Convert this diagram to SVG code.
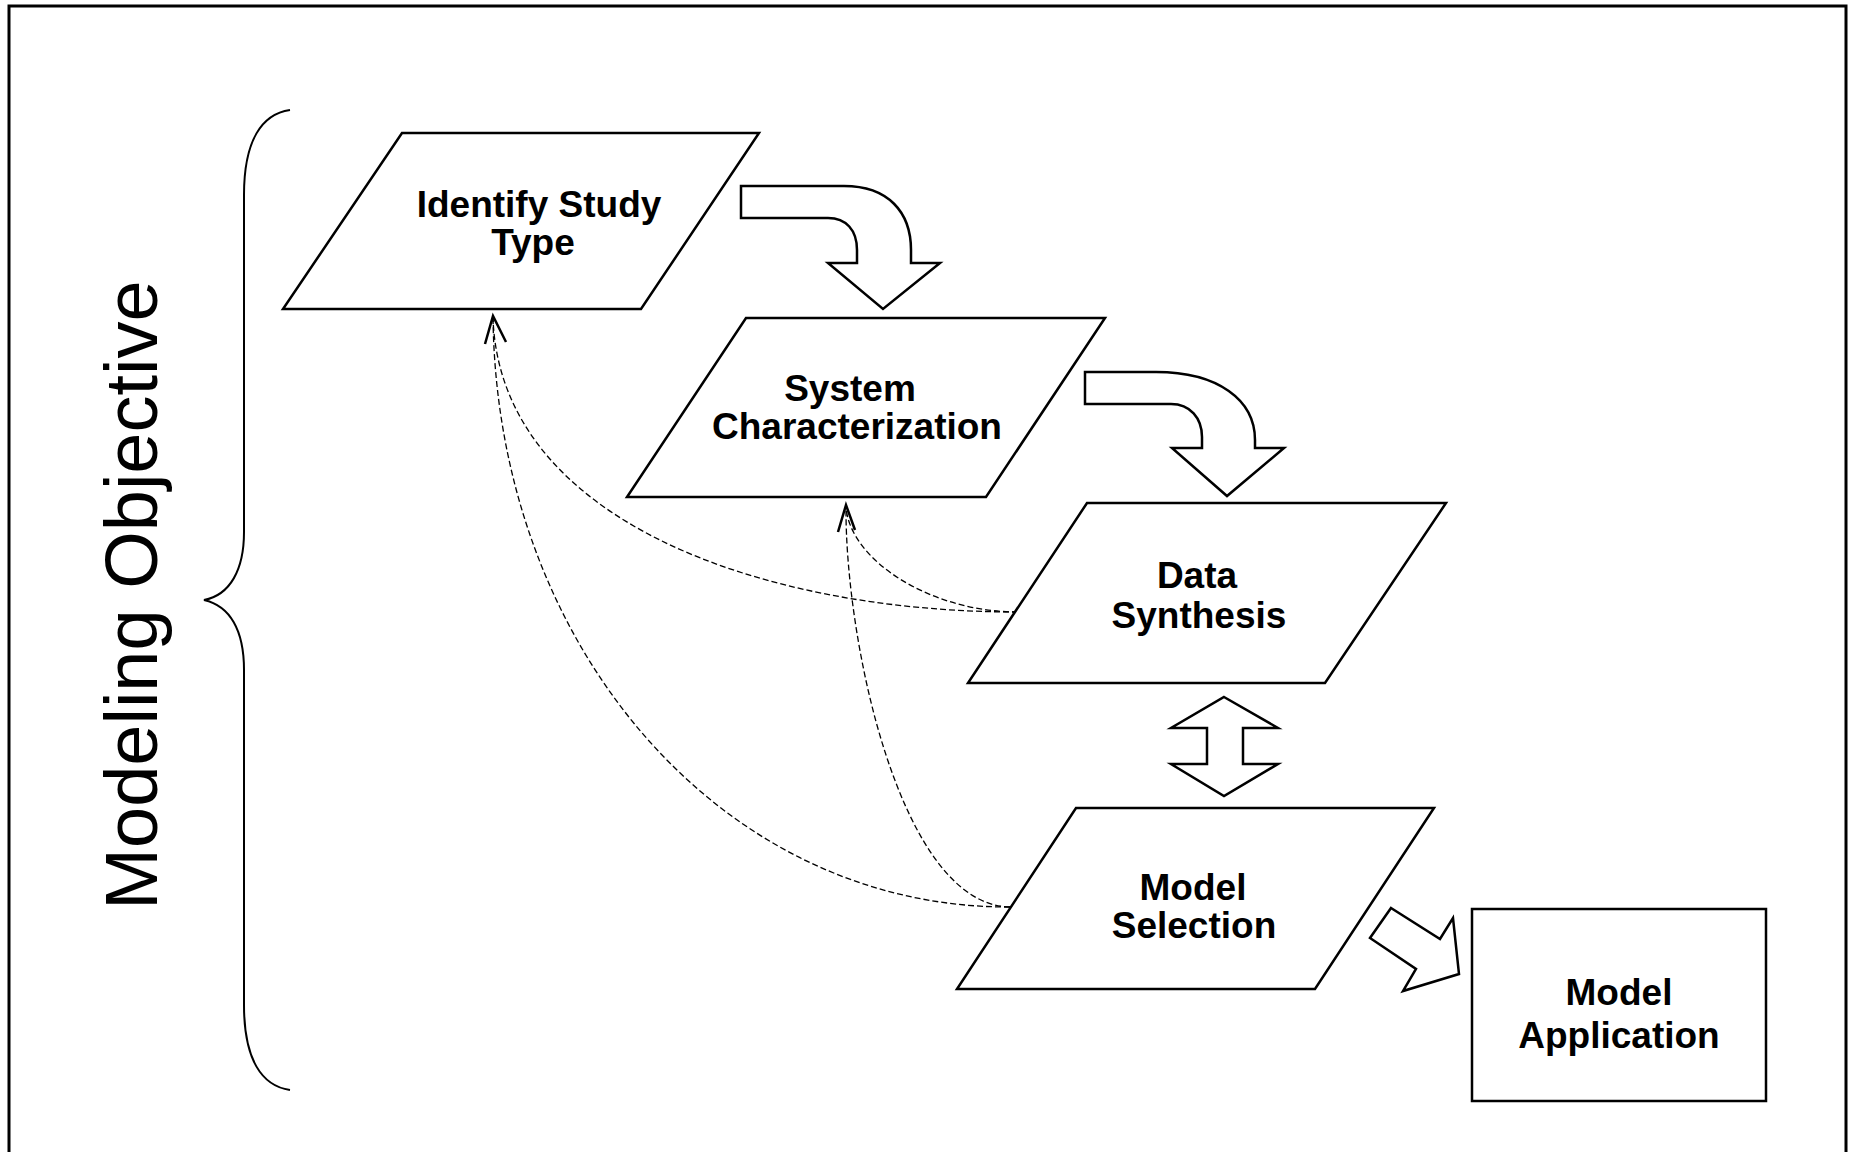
<svg xmlns="http://www.w3.org/2000/svg" width="1849" height="1152" viewBox="0 0 1849 1152">
<style>
.shape{fill:#fff;stroke:#000;stroke-width:2.5;stroke-linejoin:miter}
.blk{fill:#fff;stroke:#000;stroke-width:2.5;stroke-linejoin:miter}
.lbl{font-family:"Liberation Sans",Arial,sans-serif;font-weight:bold;font-size:37px;text-anchor:middle;fill:#000}
.dash{fill:none;stroke:#000;stroke-width:1.3;stroke-dasharray:6,3}
.head{fill:none;stroke:#000;stroke-width:2.5}
</style>
<rect width="1849" height="1152" fill="#fff"/>
<rect x="9" y="6" width="1837" height="1160" fill="none" stroke="#000" stroke-width="3"/>
<g id="brace">
<path d="M290,110 C262,114 244,140 244,195 L244,532 C244,570 230,595 204,600 C230,606 244,630 244,670 L244,1005 C244,1060 262,1086 290,1090" fill="none" stroke="#000" stroke-width="2"/>
<text x="157" y="595" transform="rotate(-90 157 595)" font-family="'Liberation Sans',Arial,sans-serif" font-size="74" text-anchor="middle" fill="#000">Modeling Objective</text>
</g>
<g id="connectors">
<path class="blk" d="M741,186 L844,186 C888,186 911,212 911,250 L911,263 L940,263 L883,309 L828,263 L857,263 L857,250 C857,230 846,218 828,218 L741,218 Z"/>
<path class="blk" d="M1085,372 L1156,372 C1218,372 1255,400 1255,440 L1255,448 L1284,448 L1227,496 L1172,448 L1202,448 L1202,437 C1202,418 1190,404 1171,404 L1085,404 Z"/>
<path class="blk" d="M1224,697 L1278,728 L1243,728 L1243,764 L1278,764 L1224,796 L1171,764 L1207,764 L1207,728 L1171,728 Z"/>
<path class="blk" d="M1391,908 L1440,939 L1453,918 L1459,974 L1403,991 L1416,969 L1370,938 Z"/>
<path class="dash" d="M1018,612 C760,612 500,520 493,318"/>
<path class="dash" d="M1018,612 C930,612 850,560 846,507"/>
<path class="dash" d="M1010,907 C720,908 497,645 493,318"/>
<path class="dash" d="M1010,907 C900,905 845,640 846,507"/>
<polyline class="head" points="485,344 493,316 506,342"/>
<polyline class="head" points="838,532 846,505 855,530"/>
</g>
<g id="node-identify">
<polygon class="shape" points="402,133 759,133 641,309 283,309"/>
<text class="lbl" x="539" y="217">Identify Study</text>
<text class="lbl" x="533" y="255">Type</text>
</g>
<g id="node-system">
<polygon class="shape" points="746,318 1105,318 986,497 627,497"/>
<text class="lbl" x="850" y="401">System</text>
<text class="lbl" x="857" y="439">Characterization</text>
</g>
<g id="node-data">
<polygon class="shape" points="1087,503 1446,503 1325,683 968,683"/>
<text class="lbl" x="1197" y="588">Data</text>
<text class="lbl" x="1199" y="628">Synthesis</text>
</g>
<g id="node-model-selection">
<polygon class="shape" points="1076,808 1434,808 1315,989 957,989"/>
<text class="lbl" x="1193" y="900">Model</text>
<text class="lbl" x="1194" y="938">Selection</text>
</g>
<g id="node-model-application">
<rect class="shape" x="1472" y="909" width="294" height="192"/>
<text class="lbl" x="1619" y="1005">Model</text>
<text class="lbl" x="1619" y="1048">Application</text>
</g>
</svg>
